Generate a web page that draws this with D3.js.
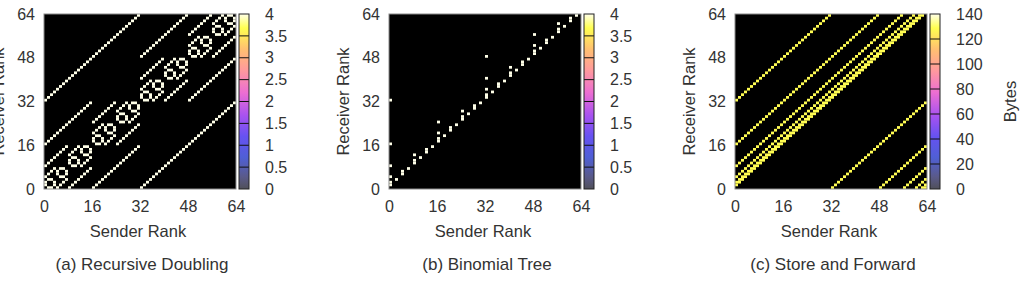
<!DOCTYPE html>
<html>
<head>
<meta charset="utf-8">
<script src="https://cdn.jsdelivr.net/npm/d3@7"></script>
<style>
  body { margin: 0; background: #fff; }
  text { font-family: "Liberation Sans", Arial, sans-serif; fill: #333; }
</style>
</head>
<body>
<svg id="chart" width="1020" height="288"></svg>
<script>
// diagonal runs: [offset receiver-sender, run length, first senders]
const runsDoubling = [
  [32, 32, [0]], [-32, 32, [32]],
  [16, 16, [0, 32]], [-16, 16, [16, 48]],
  [8, 8, [0, 16, 32, 48]], [-8, 8, [8, 24, 40, 56]],
  [4, 4, [0, 8, 16, 24, 32, 40, 48, 56]], [-4, 4, [4, 12, 20, 28, 36, 44, 52, 60]],
  [2, 2, [0, 4, 8, 12, 16, 20, 24, 28, 32, 36, 40, 44, 48, 52, 56, 60]],
  [-2, 2, [2, 6, 10, 14, 18, 22, 26, 30, 34, 38, 42, 46, 50, 54, 58, 62]],
  [1, 1, [0, 2, 4, 6, 8, 10, 12, 14, 16, 18, 20, 22, 24, 26, 28, 30,
          32, 34, 36, 38, 40, 42, 44, 46, 48, 50, 52, 54, 56, 58, 60, 62]],
  [-1, 1, [1, 3, 5, 7, 9, 11, 13, 15, 17, 19, 21, 23, 25, 27, 29, 31,
           33, 35, 37, 39, 41, 43, 45, 47, 49, 51, 53, 55, 57, 59, 61, 63]]
];
const valueDoubling = 4;

// binomial tree: sender -> receivers
const sendsBinomial = [
  [0, [1, 2, 4, 8, 16, 32]], [2, [3]], [4, [5, 6]], [6, [7]],
  [8, [9, 10, 12]], [10, [11]], [12, [13, 14]], [14, [15]],
  [16, [17, 18, 20, 24]], [18, [19]], [20, [21, 22]], [22, [23]],
  [24, [25, 26, 28]], [26, [27]], [28, [29, 30]], [30, [31]],
  [32, [33, 34, 36, 40, 48]], [34, [35]], [36, [37, 38]], [38, [39]],
  [40, [41, 42, 44]], [42, [43]], [44, [45, 46]], [46, [47]],
  [48, [49, 50, 52, 56]], [50, [51]], [52, [53, 54]], [54, [55]],
  [56, [57, 58, 60]], [58, [59]], [60, [61, 62]], [62, [63]]
];
const valueBinomial = 4;

const runsStore = [
  [1, 63, [0]], [-63, 1, [63]],
  [2, 62, [0]], [-62, 2, [62]],
  [4, 60, [0]], [-60, 4, [60]],
  [8, 56, [0]], [-56, 8, [56]],
  [16, 48, [0]], [-48, 16, [48]],
  [32, 32, [0]], [-32, 32, [32]]
];
const valueStore = 128;

const rankTicks = [0, 16, 32, 48, 64];
const cbTicksSmall = [0, 0.5, 1, 1.5, 2, 2.5, 3, 3.5, 4];
const cbTicksBytes = [0, 20, 40, 60, 80, 100, 120, 140];
const captions = ["(a) Recursive Doubling", "(b) Binomial Tree", "(c) Store and Forward"];

// palette (fraction of colour range -> colour)
const palStops = [0, 0.07, 0.18, 0.30, 0.42, 0.55, 0.68, 0.80, 0.92, 1];
const palColors = ["#50505a", "#5a5a8a", "#4f5fd5", "#6652f2", "#a852f0",
                   "#ec6ed2", "#ff9a9c", "#ffc070", "#ffff50", "#ffffe8"];

function cellsFromRuns(runs, value) {
  const out = [];
  runs.forEach(([off, len, starts]) => {
    starts.forEach(s0 => {
      for (let k = 0; k < len; k++) out.push({ s: s0 + k, r: s0 + k + off, v: value });
    });
  });
  return out;
}

function cellsFromSends(sends, value) {
  const out = [];
  sends.forEach(([s, rs]) => rs.forEach(r => out.push({ s: s, r: r, v: value })));
  return out;
}

const svg = d3.select("#chart");
const W = 192, H = 175, plotTop = 14;

const grad = svg.append("defs").append("linearGradient")
  .attr("id", "pal").attr("x1", 0).attr("y1", 1).attr("x2", 0).attr("y2", 0);
palStops.forEach((p, i) => grad.append("stop").attr("offset", p).attr("stop-color", palColors[i]));

function drawPanel(left, cells, cbTicks, caption, cbLabel) {
  const cbMax = cbTicks[cbTicks.length - 1];
  const x = d3.scaleLinear().domain([0, 64]).range([0, W]);
  const y = d3.scaleLinear().domain([0, 64]).range([H, 0]);
  const color = d3.scaleLinear().domain(palStops.map(p => p * cbMax)).range(palColors);

  const g = svg.append("g").attr("transform", `translate(${left},${plotTop})`);

  g.append("rect").attr("width", W).attr("height", H).attr("fill", "#000");

  g.selectAll("rect.cell")
    .data(cells)
    .join("rect")
    .attr("class", "cell")
    .attr("x", d => x(d.s))
    .attr("y", d => y(d.r + 1))
    .attr("width", x(1) - x(0))
    .attr("height", y(0) - y(1))
    .attr("fill", d => color(d.v));

  g.append("rect").attr("width", W).attr("height", H)
    .attr("fill", "none").attr("stroke", "#8a8a8a").attr("stroke-width", 1);

  // axes
  const ax = g.append("g").attr("transform", `translate(0,${H})`)
    .call(d3.axisBottom(x).tickValues(rankTicks).tickSize(0).tickPadding(12));
  ax.select(".domain").remove();
  ax.selectAll("text").style("font-size", "16px");

  const ay = g.append("g")
    .call(d3.axisLeft(y).tickValues(rankTicks).tickSize(0).tickPadding(9));
  ay.select(".domain").remove();
  ay.selectAll("text").style("font-size", "16px");

  g.append("text").attr("x", W / 2 - 2).attr("y", 223)
    .attr("text-anchor", "middle").style("font-size", "16.5px").text("Sender Rank");

  g.append("text")
    .attr("transform", `translate(-46,${H / 2}) rotate(-90)`)
    .attr("text-anchor", "middle").attr("dy", "0.35em")
    .style("font-size", "16.5px").text("Receiver Rank");

  g.append("text").attr("x", W / 2 + 2).attr("y", 256)
    .attr("text-anchor", "middle").style("font-size", "17px").text(caption);

  // colour box
  const cb = g.append("g").attr("transform", `translate(${W + 3},0)`);
  const cy = d3.scaleLinear().domain([0, cbMax]).range([H, 0]);
  cb.append("rect").attr("width", 10).attr("height", H).attr("fill", "url(#pal)");
  cb.selectAll("line.sep")
    .data(cbTicks.slice(1, -1))
    .join("line")
    .attr("class", "sep")
    .attr("x1", 0).attr("x2", 10)
    .attr("y1", d => cy(d)).attr("y2", d => cy(d))
    .attr("stroke", "#111").attr("stroke-width", 1);
  cb.append("rect").attr("width", 10).attr("height", H)
    .attr("fill", "none").attr("stroke", "#222").attr("stroke-width", 1);

  const ac = cb.append("g").attr("transform", "translate(10,0)")
    .call(d3.axisRight(cy).tickValues(cbTicks).tickSize(0).tickPadding(16).tickFormat(d3.format("")));
  ac.select(".domain").remove();
  ac.selectAll("text").style("font-size", "16px");

  if (cbLabel) {
    g.append("text")
      .attr("transform", `translate(${1010 - left},${H / 2}) rotate(-90)`)
      .attr("text-anchor", "middle").attr("dy", "0.35em")
      .style("font-size", "16.5px").text(cbLabel);
  }
}

drawPanel(44, cellsFromRuns(runsDoubling, valueDoubling), cbTicksSmall, captions[0], null);
drawPanel(389, cellsFromSends(sendsBinomial, valueBinomial), cbTicksSmall, captions[1], null);
drawPanel(735, cellsFromRuns(runsStore, valueStore), cbTicksBytes, captions[2], "Bytes");
</script>
</body>
</html>
